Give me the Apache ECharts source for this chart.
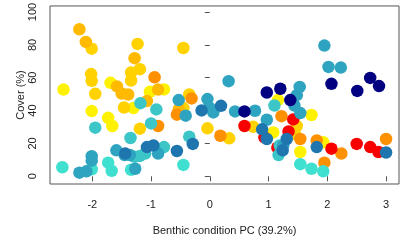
<!DOCTYPE html>
<html>
<head>
<meta charset="utf-8">
<script src="https://cdn.jsdelivr.net/npm/echarts@6/dist/echarts.min.js"></script>
<style>
  html, body { margin: 0; padding: 0; background: #fff; }
  #chart { width: 402px; height: 241px; }
</style>
</head>
<body>
<div id="chart"></div>
<script>
// points, [PC score, cover %], grouped by colour
var yellowPts = [[-2.49, 52.8], [-2.01, 39.7], [-1.73, 35.6], [-1.66, 30.6], [-1.69, 56.9], [-1.02, 51.4],
  [-0.78, 52.9], [-1.30, 41.5], [1.16, 46.4], [1.08, 26.7], [1.73, 37.3], [1.54, 14.8], [1.93, 20.7]];
var goldPts = [[-2.01, 77.7], [-2.02, 62.2], [-2.01, 58.1], [-1.95, 50.2], [-1.34, 63.2], [-1.34, 58.3],
  [-1.19, 65.2], [-1.23, 80.6], [-0.45, 78.1], [-1.46, 41.9], [-1.19, 29.0], [-0.04, 29.2], [0.33, 23.1],
  [0.74, 30.1], [-0.35, 49.8], [1.48, 30.6], [1.45, 25.7], [-0.45, 41.5]];
var amberPts = [[-2.22, 89.5], [-2.11, 81.8], [-1.28, 71.9], [-1.58, 54.7], [-1.50, 50.4], [-1.39, 49.8],
  [-0.88, 52.8], [-1.07, 45.8], [-0.53, 40.5]];
var orangePts = [[-0.94, 60.3], [-0.31, 47.4], [-0.56, 37.5], [-0.88, 30.6], [0.18, 24.7], [1.22, 36.6],
  [1.54, 22.7], [1.82, 21.8], [1.95, 8.3], [2.24, 13.8], [3.00, 22.7]];
var redPts = [[0.59, 30.6], [0.93, 23.7], [1.34, 27.3], [1.42, 34.6], [1.15, 17.4], [2.07, 16.8],
  [2.50, 19.7], [2.73, 17.8], [2.87, 14.8]];
var turqPts = [[-2.51, 5.5], [-2.01, 4.3], [-1.73, 8.3], [-1.67, 3.3], [-1.34, 4.0], [1.54, 7.4],
  [1.73, 4.6], [1.93, 3.0], [-0.45, 6.9]];
var cyanPts = [[-1.95, 29.6], [-1.35, 23.3], [-1.18, 44.5], [-0.91, 40.7], [-1.00, 32.2], [-0.35, 24.1],
  [-1.28, 11.9], [-1.19, 12.4], [-1.10, 13.8], [-0.78, 17.8], [1.10, 43.1], [1.17, 12.9], [1.19, 18.8]];
var tealPts = [[-2.22, 2.2], [-2.10, 3.0], [-2.01, 12.2], [-2.01, 9.5], [-1.59, 15.8], [-1.45, 12.9],
  [-1.36, 12.9], [-1.27, 4.6], [-0.88, 13.8], [-0.53, 46.4], [-0.41, 36.9], [-0.04, 47.0], [0.32, 57.9],
  [0.43, 39.5], [0.77, 39.9], [0.06, 38.9], [0.97, 34.4], [1.53, 54.4], [1.48, 49.4], [1.44, 43.1],
  [1.54, 38.5], [1.95, 79.6], [2.02, 66.6], [2.23, 66.2], [1.25, 18.8], [-0.01, 41.9]];
var steelPts = [[-1.07, 17.8], [-0.96, 18.8], [-0.56, 15.4], [-0.29, 19.7], [-0.14, 40.1], [0.19, 42.9],
  [0.89, 28.6], [0.97, 22.7], [1.31, 22.7], [1.24, 15.8], [1.82, 17.8], [3.00, 14.5], [-1.44, 13.8]];
var navyPts = [[0.59, 39.5], [0.97, 51.0], [1.20, 53.3], [1.37, 46.4], [2.07, 56.3], [2.51, 52.0],
  [2.73, 59.9], [2.88, 54.9]];

var xTicks = [-2, -1, 0, 1, 2, 3];
var yTicks = [0, 20, 40, 60, 80, 100];

var groups = [
  [yellowPts, '#FFF200'],
  [goldPts, '#FFD200'],
  [amberPts, '#FFBA00'],
  [orangePts, '#FF9000'],
  [redPts, '#F80000'],
  [turqPts, '#40E0D0'],
  [cyanPts, '#3CC6C8'],
  [tealPts, '#2EA4C0'],
  [steelPts, '#1F76AE'],
  [navyPts, '#000080']
];

var myChart = echarts.init(document.getElementById('chart'));
var font = '"Liberation Sans", Arial, sans-serif';

myChart.setOption({
  animation: false,
  grid: {
    left: 50, right: 3, top: 5, bottom: 53,
    show: true, borderColor: '#555', borderWidth: 1
  },
  xAxis: {
    type: 'value',
    min: -2.72, max: 3.22,
    name: 'Benthic condition PC (39.2%)',
    nameLocation: 'middle',
    nameGap: 41,
    nameMoveOverlap: false,
    nameTextStyle: { fontFamily: font, fontSize: 11, color: '#222' },
    axisLine: { show: false },
    splitLine: { show: false },
    axisTick: { show: true, length: 5, customValues: xTicks, lineStyle: { color: '#555' } },
    axisLabel: { customValues: xTicks, margin: 15, fontFamily: font, fontSize: 11, color: '#222' }
  },
  yAxis: {
    type: 'value',
    min: -4.7, max: 103.7,
    name: 'Cover (%)',
    nameLocation: 'middle',
    nameRotate: 90,
    nameGap: 24,
    nameMoveOverlap: false,
    nameTextStyle: { fontFamily: font, fontSize: 11, color: '#222' },
    axisLine: { show: false },
    splitLine: { show: false },
    axisTick: { show: true, length: 5, customValues: yTicks, lineStyle: { color: '#555' } },
    axisLabel: { customValues: yTicks, rotate: 90, margin: 12, fontFamily: font, fontSize: 11, color: '#222' }
  },
  series: groups.map(function (g) {
    return {
      type: 'scatter',
      data: g[0],
      symbolSize: 12.5,
      itemStyle: { color: g[1], opacity: 1 }
    };
  })
});
</script>
</body>
</html>
